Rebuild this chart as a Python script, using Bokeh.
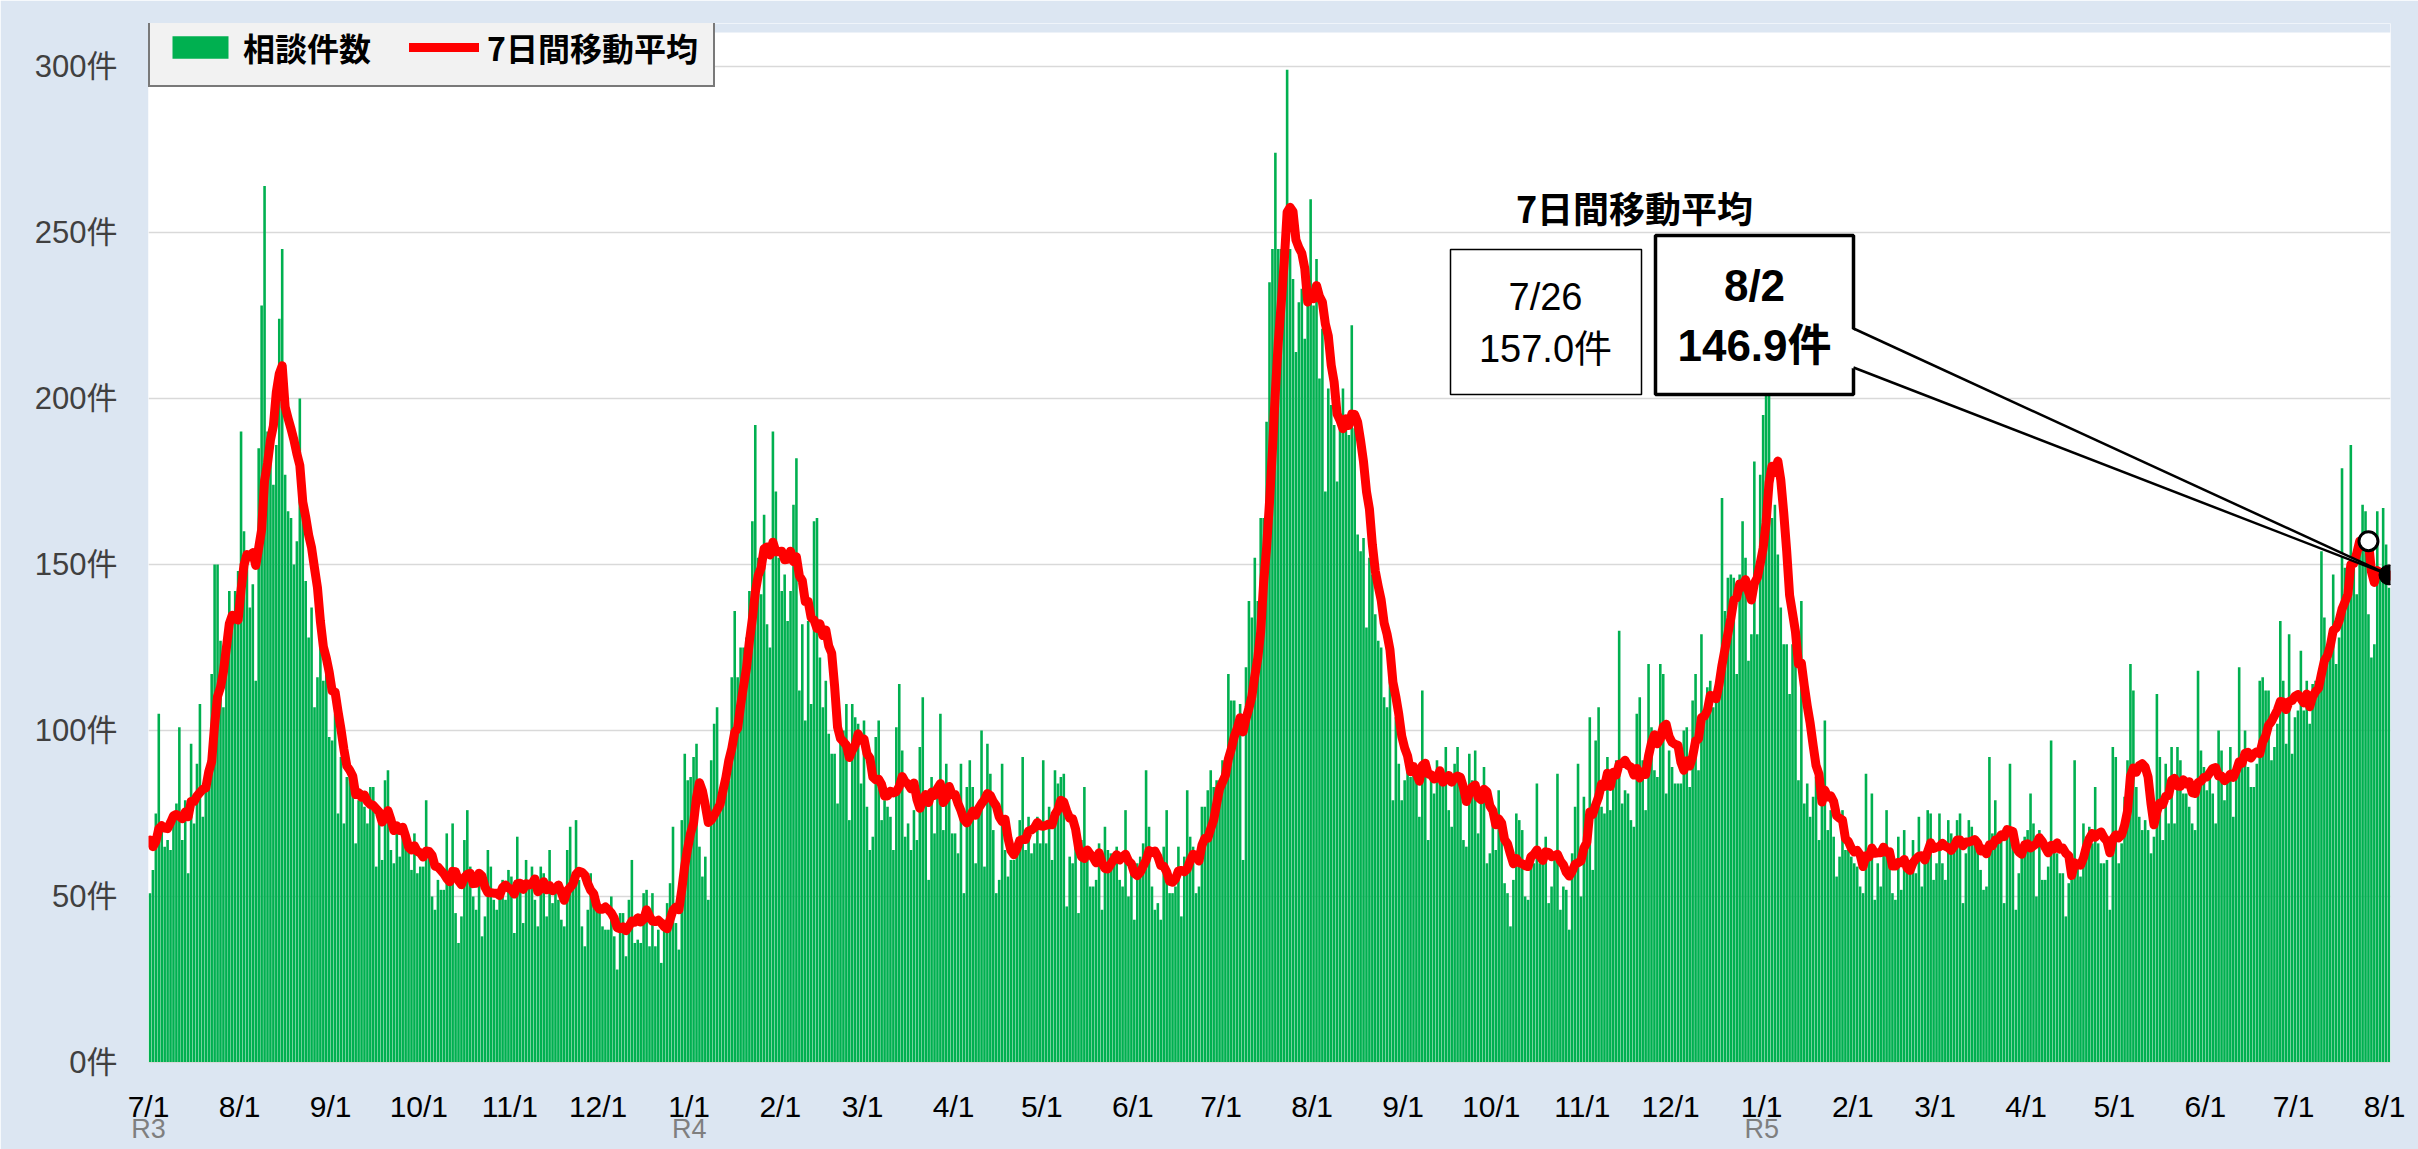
import pandas as pd
from bokeh.plotting import figure
from bokeh.models import Range1d, FixedTicker, Legend, LegendItem, LinearAxis, ColumnDataSource
from bokeh.core.properties import value
from bokeh.embed import file_html
from bokeh.resources import INLINE

# ---------------- data: daily number of consultations (相談件数) ----------------
start_date = "2021-07-01"
# 6/25-6/30/2021, used only so that the first 7-day averages are complete
counts_2021_0625_0630 = [72, 64, 78, 66, 70, 68]
counts_2021_0701_1014 = [
    51, 58, 75, 105, 72, 65, 67, 64, 72, 78,
    101, 67, 79, 57, 96, 72, 90, 108, 74, 82,
    91, 117, 150, 150, 127, 107, 132, 142, 135, 142,
    148, 190, 160, 154, 137, 144, 115, 185, 228, 264,
    190, 186, 174, 186, 224, 245, 177, 166, 164, 150,
    157, 200, 168, 145, 128, 137, 107, 116, 129, 115,
    121, 98, 97, 105, 75, 92, 72, 86, 89, 85,
    66, 79, 82, 77, 72, 83, 83, 59, 72, 61,
    85, 88, 64, 60, 69, 62, 68, 66, 65, 58,
    69, 57, 59, 59, 79, 64, 50, 46, 55, 52,
    52, 69, 57, 72, 45, 36]
counts_2021_1015_2022_0131 = [
    44, 67, 76, 59, 50, 46, 57, 38, 44, 64,
    59, 49, 46, 52, 55, 49, 58, 56, 39, 68,
    53, 42, 61, 55, 59, 49, 41, 59, 57, 44,
    64, 48, 53, 49, 43, 41, 64, 71, 56, 73,
    55, 41, 35, 46, 57, 49, 48, 47, 41, 40,
    40, 50, 38, 28, 45, 45, 32, 49, 61, 36,
    37, 36, 51, 52, 35, 51, 35, 40, 30, 43,
    48, 54, 71, 42, 34, 73, 93, 85, 86, 92,
    96, 65, 56, 62, 49, 91, 102, 107, 77, 85,
    90, 85, 116, 136, 116, 125, 125, 128, 142, 163,
    192, 152, 141, 165, 132, 125, 190, 172, 152]
counts_2022_0201_0524 = [
    142, 147, 133, 142, 168, 182, 112, 132, 103, 133,
    108, 163, 164, 122, 107, 115, 99, 93, 93, 78,
    98, 100, 108, 73, 108, 104, 102, 84, 103, 77,
    64, 68, 98, 103, 73, 79, 77, 74, 64, 101,
    114, 94, 68, 72, 64, 76, 67, 95, 110, 81,
    55, 86, 69, 82, 105, 70, 90, 80, 69, 69,
    63, 90, 51, 83, 91, 83, 60, 78, 100, 59,
    96, 87, 70, 51, 55, 90, 64, 56, 61, 61,
    63, 73, 92, 64, 74, 63, 66, 74, 66, 91,
    66, 77, 61, 88, 84, 86, 87, 47, 62, 60,
    66, 45, 67, 83, 65, 53, 53, 55, 66, 46,
    71, 64]
counts_2022_0525_0909 = [
    63, 63, 65, 55, 53, 76, 50, 57, 43, 60,
    62, 66, 88, 71, 53, 46, 48, 43, 65, 76,
    51, 51, 53, 65, 44, 62, 82, 68, 65, 51,
    53, 77, 77, 82, 88, 83, 85, 85, 91, 91,
    117, 109, 109, 102, 108, 61, 119, 139, 134, 152,
    139, 164, 164, 193, 235, 245, 274, 245, 245, 250,
    299, 245, 236, 214, 229, 233, 218, 228, 260, 228,
    242, 206, 221, 172, 203, 198, 192, 175, 193, 203,
    193, 189, 222, 191, 159, 154, 158, 131, 152, 147,
    135, 127, 125, 110, 107, 119, 79, 104, 90, 79,
    85, 90, 86, 90, 89, 74, 112, 90, 67]
counts_2022_0910_1227 = [
    85, 81, 91, 89, 88, 95, 76, 71, 90, 95,
    86, 67, 65, 93, 85, 94, 69, 81, 89, 60,
    63, 75, 64, 82, 72, 54, 51, 41, 55, 75,
    73, 70, 50, 49, 62, 60, 84, 60, 61, 68,
    48, 53, 62, 87, 46, 53, 52, 40, 63, 77,
    90, 50, 80, 64, 104, 58, 97, 107, 77, 75,
    92, 76, 88, 91, 130, 78, 82, 81, 73, 71,
    105, 110, 91, 76, 120, 101, 88, 86, 120, 117,
    81, 94, 89, 84, 84, 84, 100, 101, 83, 109,
    117, 88, 129, 103, 113, 115, 107, 112, 118, 170,
    136, 146, 147, 146, 117, 147, 163, 152, 121]
counts_2022_1228_2023_0414 = [
    129, 181, 129, 177, 195, 206, 205, 164, 168, 153,
    137, 126, 126, 111, 126, 129, 85, 139, 78, 84,
    74, 80, 86, 67, 80, 103, 70, 76, 68, 56,
    62, 76, 64, 64, 62, 60, 59, 53, 51, 87,
    61, 81, 49, 60, 53, 63, 76, 62, 51, 49,
    68, 52, 70, 58, 57, 67, 57, 74, 53, 61,
    76, 75, 55, 60, 75, 60, 55, 73, 69, 64,
    73, 75, 48, 63, 73, 71, 67, 66, 58, 52,
    53, 92, 69, 79, 67, 68, 48, 68, 90, 67,
    46, 57, 63, 68, 70, 81, 72, 50, 70, 55,
    55, 59, 97, 64, 63, 57, 57, 44]
counts_2023_0415_0802 = [
    54, 55, 91, 59, 56, 72, 68, 71, 66, 83,
    66, 60, 60, 61, 46, 95, 92, 60, 66, 80,
    91, 120, 112, 83, 74, 70, 73, 70, 63, 68,
    111, 92, 67, 90, 72, 95, 72, 95, 91, 81,
    81, 77, 72, 70, 118, 94, 89, 82, 86, 81,
    72, 100, 94, 79, 87, 95, 74, 86, 119, 91,
    100, 89, 83, 83, 90, 115, 116, 112, 112, 91,
    95, 102, 133, 115, 96, 129, 93, 104, 106, 124,
    106, 115, 102, 114, 115, 113, 154, 134, 125, 123,
    147, 120, 128, 179, 149, 141, 186, 149, 141, 154,
    168, 166, 135, 122, 126, 166, 148, 167, 156, 143]

era_dates = ["2021-07-01", "2022-01-01", "2023-01-01"]
era_labels = ["R3", "R4", "R5"]
y_ticks = [0, 50, 100, 150, 200, 250, 300]
highlight_dates = ["2023-07-26", "2023-08-02"]   # previous week / latest

counts = (counts_2021_0701_1014 + counts_2021_1015_2022_0131 + counts_2022_0201_0524 +
          counts_2022_0525_0909 + counts_2022_0910_1227 + counts_2022_1228_2023_0414 +
          counts_2023_0415_0802)
dates = pd.date_range(start_date, periods=len(counts), freq="D")
ma7 = (pd.Series(counts_2021_0625_0630 + counts, dtype=float)
       .rolling(7).mean().iloc[len(counts_2021_0625_0630):].to_numpy())
day = (dates - dates[0]).days.to_numpy()
src = ColumnDataSource(dict(day=day, count=counts, ma=ma7))

# ---------------- layout (pixel geometry of the page) ----------------
FIG_W, FIG_H = 2418, 1149
FR_L, FR_R, FR_T, FR_B = 148, 2390, 23, 1062   # plot frame in page pixels
PLOT_TOP = 32                                  # white plotting area starts here
PX_PER_UNIT = 3.3204                           # 300 -> y=66, 0 -> y=1062
Y_MAX = (FR_B - FR_T) / PX_PER_UNIT
X0, X1 = -0.5, len(counts) - 0.5

def px_x(X):
    return X0 + (X - FR_L) * (X1 - X0) / (FR_R - FR_L)

def px_y(Y):
    return (FR_B - Y) / PX_PER_UNIT

FONT = "Liberation Sans, Noto Sans CJK JP"
JP = "Noto Sans CJK JP"
BG = "#DCE6F2"

p = figure(width=FIG_W, height=FIG_H, output_backend="svg", toolbar_location=None,
           x_range=Range1d(X0, X1), y_range=Range1d(0, Y_MAX),
           min_border_left=FR_L, min_border_right=FIG_W - FR_R,
           min_border_top=FR_T, min_border_bottom=FIG_H - FR_B,
           background_fill_color="white", border_fill_color=BG,
           outline_line_color=None)

# band of chart background above the plotting area (behind the legend)
p.quad(left=[X0], right=[X1], bottom=[px_y(PLOT_TOP)], top=[Y_MAX],
       fill_color=BG, line_color=None)

bars = p.vbar(x="day", top="count", width=0.88, source=src,
              fill_color="#00B050", line_color=None)
line = p.line(x="day", y="ma", source=src, line_color="#FF0000", line_width=9,
              line_join="round", line_cap="round")

# axes
months = pd.date_range(dates[0], dates[-1], freq="MS")
m_ticks = [float((m - dates[0]).days) - 0.5 for m in months]
xa = p.xaxis[0]
xa.ticker = FixedTicker(ticks=m_ticks)
xa.major_label_overrides = {t: f"{m.month}/{m.day}" for t, m in zip(m_ticks, months)}
xa.major_label_text_font = FONT
xa.major_label_text_font_size = "30px"
xa.major_label_text_color = "#000000"
xa.major_label_standoff = 21
xa.axis_line_color = "#D9D9D9"
xa.major_tick_line_color = None
xa.minor_tick_line_color = None

# second line under the month labels: Reiwa year at the start of each year
e_ticks = [float((pd.Timestamp(d) - dates[0]).days) - 0.5 for d in era_dates]
ea = LinearAxis(ticker=FixedTicker(ticks=e_ticks),
                major_label_overrides={t: lab for t, lab in zip(e_ticks, era_labels)},
                major_label_text_font=FONT, major_label_text_font_size="27px",
                major_label_text_color="#7F7F7F", major_label_standoff=-12,
                axis_line_color=None, major_tick_line_color=None,
                minor_tick_line_color=None, major_tick_out=0, major_tick_in=0)
p.add_layout(ea, "below")

ya = p.yaxis[0]
ya.ticker = FixedTicker(ticks=y_ticks)
ya.major_label_overrides = {t: f"{t}件" for t in y_ticks}
ya.major_label_text_font = FONT
ya.major_label_text_font_size = "31px"
ya.major_label_text_color = "#404040"
ya.major_label_standoff = 25
ya.axis_line_color = None
ya.major_tick_line_color = None
ya.minor_tick_line_color = None

p.xgrid.grid_line_color = None
p.ygrid.ticker = FixedTicker(ticks=y_ticks)
p.ygrid.grid_line_color = "#D9D9D9"
p.ygrid.grid_line_width = 1.5

# legend (inside the frame, top-left)
legend = Legend(items=[LegendItem(label="相談件数", renderers=[bars]),
                       LegendItem(label="7日間移動平均", renderers=[line])],
                orientation="horizontal", location=(0, FR_B - 87),
                border_line_color="black", border_line_width=2.5,
                background_fill_color="#F2F2F2", background_fill_alpha=1.0,
                label_text_font=JP, label_text_font_style="bold",
                label_text_font_size="32px", label_text_color="#000000",
                glyph_width=70, glyph_height=28, label_standoff=8,
                spacing=38, padding=15, margin=0)
p.add_layout(legend)

# ---------------- callout annotation ----------------
i_prev = int(day[dates.get_loc(pd.Timestamp(highlight_dates[0]))])
i_last = int(day[dates.get_loc(pd.Timestamp(highlight_dates[1]))])
d_prev, d_last = dates[i_prev], dates[i_last]

p.text(x=[px_x(1634)], y=[px_y(206)], text=["7日間移動平均"], text_font=value(JP),
       text_font_style="bold", text_font_size="36px", text_align="center",
       text_baseline="middle", text_color="black")

p.quad(left=[px_x(1450)], right=[px_x(1641)], top=[px_y(249)], bottom=[px_y(394)],
       fill_color="white", line_color="black", line_width=1.5)
p.text(x=[px_x(1545)] * 2, y=[px_y(296), px_y(348)],
       text=[f"{d_prev.month}/{d_prev.day}", f"{ma7[i_prev]:.1f}件"],
       text_font=value(FONT), text_font_size="38px", text_align="center",
       text_baseline="middle", text_color="black")

p.quad(left=[px_x(1655)], right=[px_x(1853)], top=[px_y(235)], bottom=[px_y(394)],
       fill_color="white", line_color="black", line_width=3.5)
tip_x, tip_y = float(i_last), float(ma7[i_last])
p.patch(x=[px_x(1850), tip_x, px_x(1850)], y=[px_y(328), tip_y, px_y(367)],
        fill_color="white", line_color=None)
p.segment(x0=[px_x(1853)] * 2, y0=[px_y(328), px_y(367)], x1=[tip_x] * 2, y1=[tip_y] * 2,
          line_color="black", line_width=2.5)
p.text(x=[px_x(1754)] * 2, y=[px_y(285), px_y(345)],
       text=[f"{d_last.month}/{d_last.day}", f"{ma7[i_last]:.1f}件"],
       text_font=value(FONT), text_font_style="bold", text_font_size="44px",
       text_align="center", text_baseline="middle", text_color="black")

p.scatter(x=[float(i_prev)], y=[float(ma7[i_prev])], size=19, fill_color="white",
          line_color="black", line_width=3)
p.scatter(x=[tip_x], y=[tip_y], size=20, fill_color="black", line_color="black")

open("out.html", "w").write(file_html(p, INLINE))
